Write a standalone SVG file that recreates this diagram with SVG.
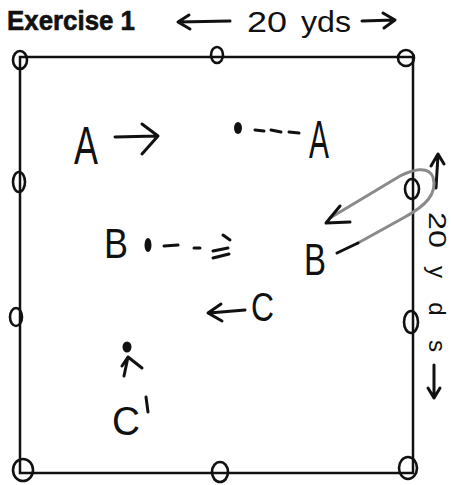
<svg xmlns="http://www.w3.org/2000/svg" width="451" height="485" viewBox="0 0 451 485">
<style>
.ln{stroke:#111;stroke-width:2.5;fill:none}
.cone{stroke:#111;stroke-width:2.6;fill:none}
.hw{stroke:#111;stroke-width:3;fill:none;stroke-linecap:round;stroke-linejoin:round}
.gr{stroke:#8a8a8a;stroke-width:3;fill:none;stroke-linecap:round}
.t{font-family:"Liberation Sans",Arial,sans-serif;fill:#111}
.dot{fill:#111}
</style>
<rect width="451" height="485" fill="#fff"/>
<text class="t" x="7" y="30" font-size="27" font-weight="bold" stroke="#111" stroke-width="0.6" textLength="128" lengthAdjust="spacingAndGlyphs">Exercise 1</text>
<g id="top-dim">
<path class="hw" d="M178,22 L230,21 M189,15 L178,22 L190,29"/>
<text class="t" x="247" y="32" font-size="29" textLength="40" lengthAdjust="spacingAndGlyphs">20</text>
<text class="t" x="301" y="32" font-size="29" textLength="50" lengthAdjust="spacingAndGlyphs">yds</text>
<path class="hw" d="M362,21 L395,20 M383,13 L395,20 L384,28"/>
</g>
<g id="field">
<path class="ln" d="M20,57 L413,57 L413,473 L20,473 Z"/>
</g>
<g id="cones">
<ellipse class="cone" cx="20" cy="60" rx="7" ry="9"/>
<ellipse class="cone" cx="217" cy="55" rx="6" ry="8"/>
<ellipse class="cone" cx="406" cy="58" rx="8" ry="8"/>
<ellipse class="cone" cx="19" cy="182" rx="6" ry="10"/>
<ellipse class="cone" cx="16" cy="317" rx="6" ry="9"/>
<ellipse class="cone" cx="23" cy="470" rx="10" ry="11"/>
<ellipse class="cone" cx="220" cy="472" rx="8" ry="10"/>
<ellipse class="cone" cx="408" cy="468" rx="9" ry="11"/>
<ellipse class="cone" cx="412" cy="189" rx="7" ry="10"/>
<ellipse class="cone" cx="411" cy="322" rx="7" ry="11"/>
</g>
<g id="right-dim">
<path class="hw" d="M436,188 L438,155 M431,166 L438,154 L444,164"/>
<text class="t" x="429" y="212" font-size="24" transform="rotate(90 429 212)" textLength="36" lengthAdjust="spacingAndGlyphs">20</text>
<text class="t" x="429" y="266" font-size="24" transform="rotate(90 429 266)" textLength="86" lengthAdjust="spacing">yds</text>
<path class="hw" d="M434,365 L434,398 M428,388 L434,398 L440,388"/>
</g>
<g id="player-A">
<text class="t" x="74" y="164" font-size="54" textLength="24" lengthAdjust="spacingAndGlyphs">A</text>
<path class="hw" d="M115,137 L157,136 M142,124 L158,136 L142,154"/>
<ellipse class="dot" cx="238" cy="128" rx="4" ry="6"/>
<path class="hw" d="M255,130 L264,131 M271,130 L281,132 M289,132 L299,133"/>
<text class="t" x="309" y="158" font-size="54" textLength="20" lengthAdjust="spacingAndGlyphs">A</text>
</g>
<g id="player-B">
<text class="t" x="104" y="258" font-size="42" textLength="24" lengthAdjust="spacingAndGlyphs">B</text>
<ellipse class="dot" cx="148" cy="245" rx="3.5" ry="7"/>
<path class="hw" d="M164,246 L178,245 M194,248 L200,248 M213,251 L228,248 M213,258 L229,254 M223,235 L230,240"/>
<text class="t" x="304" y="275" font-size="44" textLength="22" lengthAdjust="spacingAndGlyphs">B</text>
</g>
<g id="connectors">
<path class="gr" d="M358,243 L405,217 C425,206 438,194 433,177 C428,165 412,170 400,176 L330,218"/>
<path class="hw" d="M337,253 L358,243"/>
<path class="hw" d="M340,206 L326,223 L350,222"/>
</g>
<g id="player-C">
<path class="hw" d="M245,310 L209,313 M221,304 L208,313 L222,321"/>
<text class="t" x="251" y="321" font-size="40" textLength="23" lengthAdjust="spacingAndGlyphs">C</text>
<ellipse class="dot" cx="127" cy="347" rx="4.5" ry="5.5"/>
<path class="hw" d="M124,376 L128,357 L142,368 M128,357 L122,366"/>
<text class="t" x="112" y="435" font-size="40" textLength="28" lengthAdjust="spacingAndGlyphs">C</text>
<path class="hw" d="M146,397 L148,412"/>
</g>
</svg>
